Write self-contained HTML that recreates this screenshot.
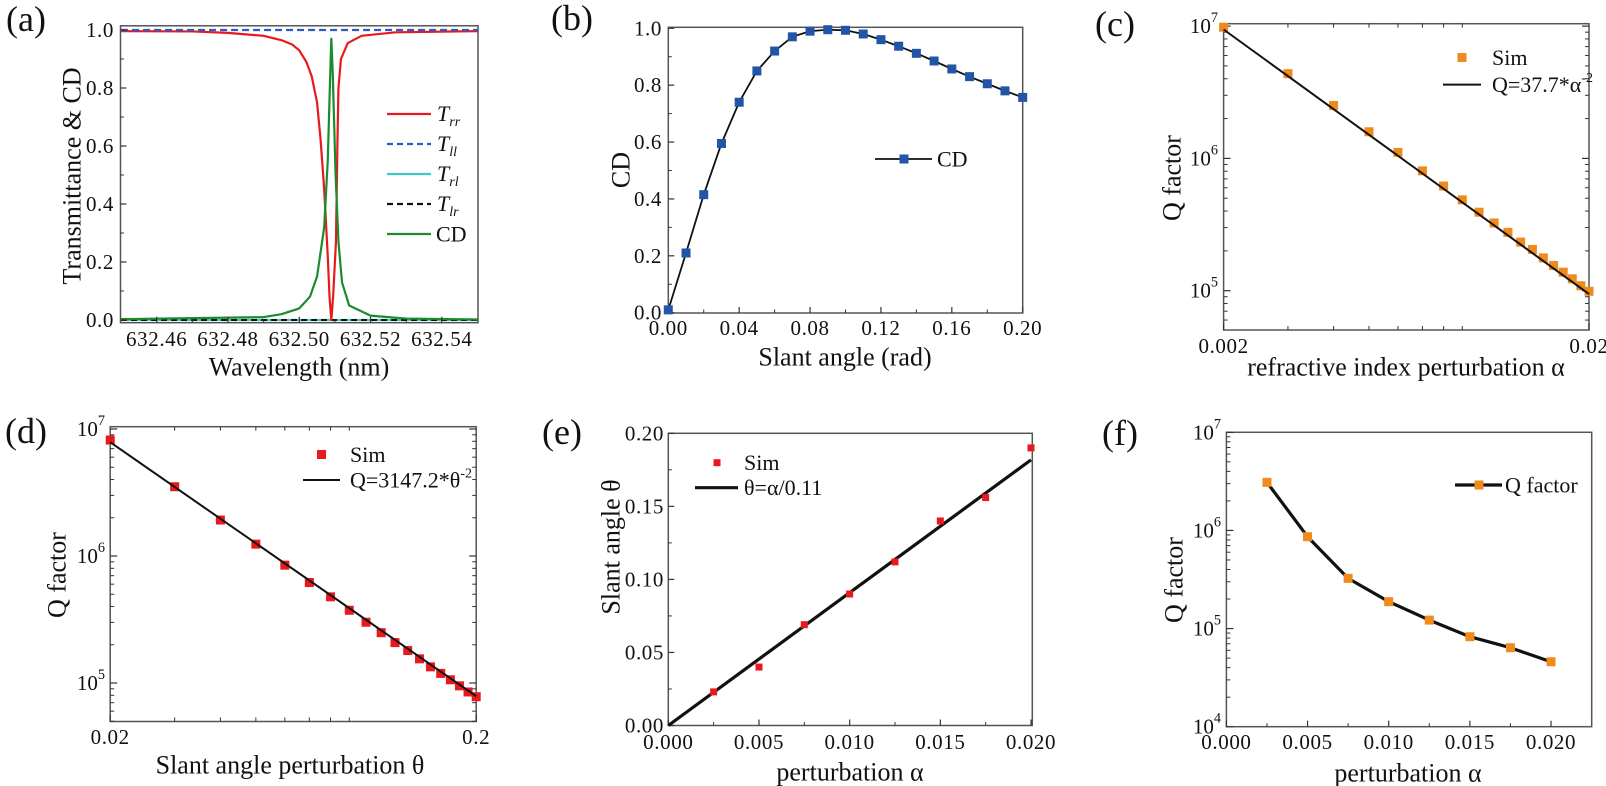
<!DOCTYPE html>
<html><head><meta charset="utf-8">
<style>
html,body{margin:0;padding:0;background:#fff;}
svg{display:block;font-family:"Liberation Serif",serif;}
</style></head>
<body>
<svg id="fig" width="1606" height="786" viewBox="0 0 1606 786" xmlns="http://www.w3.org/2000/svg">
<rect x="0" y="0" width="1606" height="786" fill="#fff"/>
</svg>
<script>
// ---------- data (a) ----------
const aTrrX=[632.45,632.47,632.48,632.49,632.495,632.498,632.50,632.502,632.5035,632.505,632.506,632.507,632.508,632.5085,632.509,632.5095,632.5103,632.5107,632.511,632.5117,632.5136,632.5175,632.527,632.55];
const aTrrY=[0.996,0.995,0.99,0.98,0.965,0.95,0.93,0.89,0.84,0.75,0.62,0.45,0.22,0.08,0.0,0.08,0.27,0.6,0.8,0.9,0.955,0.98,0.992,0.996];
const aCDX=[632.45,632.49,632.495,632.50,632.503,632.505,632.507,632.508,632.5087,632.509,632.5094,632.5102,632.511,632.512,632.514,632.52,632.53,632.55];
const aCDY=[0.003,0.01,0.02,0.04,0.08,0.15,0.32,0.55,0.85,0.97,0.85,0.5,0.27,0.13,0.05,0.015,0.005,0.002];
const aTll=1.0, aTrl=0.0, aTlr=0.0;
const aXTicks=[632.46,632.48,632.50,632.52,632.54];
const aXTickLabels=["632.46","632.48","632.50","632.52","632.54"];
const aYTicks=[0,0.2,0.4,0.6,0.8,1.0];
const aYTickLabels=["0.0","0.2","0.4","0.6","0.8","1.0"];
// ---------- data (b) ----------
const bX=[0,0.01,0.02,0.03,0.04,0.05,0.06,0.07,0.08,0.09,0.10,0.11,0.12,0.13,0.14,0.15,0.16,0.17,0.18,0.19,0.20];
const bCD=[0.01,0.21,0.415,0.595,0.74,0.85,0.92,0.97,0.99,0.995,0.993,0.98,0.96,0.937,0.912,0.885,0.857,0.83,0.805,0.78,0.757];
const bXTicks=[0,0.04,0.08,0.12,0.16,0.20];
const bXTickLabels=["0.00","0.04","0.08","0.12","0.16","0.20"];
const bYTicks=[0,0.2,0.4,0.6,0.8,1.0];
const bYTickLabels=["0.0","0.2","0.4","0.6","0.8","1.0"];
// ---------- data (c) ----------
const cAlpha=[0.002,0.003,0.004,0.005,0.006,0.007,0.008,0.009,0.010,0.011,0.012,0.013,0.014,0.015,0.016,0.017,0.018,0.019,0.020];
const cQ=[9.8e6,4.37e6,2.51e6,1.59e6,1.11e6,8.05e5,6.18e5,4.86e5,3.92e5,3.25e5,2.76e5,2.33e5,2.05e5,1.77e5,1.55e5,1.38e5,1.23e5,1.09e5,9.9e4];
const cFitCoef=37.7, cFitExp=-2;
const cXTickLabels=["0.002","0.02"];
const cYDecades=[5,6,7];
// ---------- data (d) ----------
const dTheta=[0.02,0.03,0.04,0.05,0.06,0.07,0.08,0.09,0.10,0.11,0.12,0.13,0.14,0.15,0.16,0.17,0.18,0.19,0.20];
const dQ=[8.19e6,3.51e6,1.92e6,1.24e6,8.47e5,6.18e5,4.77e5,3.74e5,3.01e5,2.49e5,2.08e5,1.80e5,1.55e5,1.34e5,1.19e5,1.06e5,9.5e4,8.5e4,7.8e4];
const dFitCoef=3147.2, dFitExp=-2;
const dXTickLabels=["0.02","0.2"];
const dYDecades=[5,6,7];
// ---------- data (e) ----------
const eAlpha=[0.0025,0.005,0.0075,0.010,0.0125,0.015,0.0175,0.020];
const eTheta=[0.023,0.040,0.069,0.090,0.112,0.140,0.156,0.190];
const eFitDiv=0.11;
const eXTicks=[0,0.005,0.010,0.015,0.020];
const eXTickLabels=["0.000","0.005","0.010","0.015","0.020"];
const eYTicks=[0,0.05,0.10,0.15,0.20];
const eYTickLabels=["0.00","0.05","0.10","0.15","0.20"];
// ---------- data (f) ----------
const fAlpha=[0.0025,0.005,0.0075,0.010,0.0125,0.015,0.0175,0.020];
const fQ=[3.09e6,8.63e5,3.25e5,1.88e5,1.22e5,8.26e4,6.38e4,4.59e4];
const fXTicks=[0,0.005,0.010,0.015,0.020];
const fXTickLabels=["0.000","0.005","0.010","0.015","0.020"];
const fYDecades=[4,5,6,7];

const NS="http://www.w3.org/2000/svg";
const svg=document.getElementById('fig');
function mk(parent,tag,attrs,name){
  const el=document.createElementNS(NS,tag);
  for(const k in attrs) el.setAttribute(k,attrs[k]);
  
  
  parent.appendChild(el);
  return el;
}
function txt(parent,x,y,s,size,name,anchor,extra){
  const t=mk(parent,'text',Object.assign({x:x,y:y,'font-size':size,'text-anchor':anchor||'middle','dominant-baseline':'central',fill:'#111'},extra||{}),name);
  t.textContent=s;
  return t;
}
function lin(d0,d1,p0,p1){return v=>p0+(v-d0)/(d1-d0)*(p1-p0);}
function lg(d0,d1,p0,p1){return v=>p0+(Math.log10(v)-d0)/(d1-d0)*(p1-p0);}
function poly(parent,xs,ys,sx,sy,attrs,name){
  const pts=xs.map((x,i)=>sx(x).toFixed(2)+','+sy(ys[i]).toFixed(2)).join(' ');
  return mk(parent,'polyline',Object.assign({points:pts,fill:'none'},attrs),name);
}
function box(g,L,T,R,B){
  mk(g,'rect',{x:L,y:T,width:R-L,height:B-T,fill:'none',stroke:'#555','stroke-width':1.5},'plot-frame');
}
const FS=21, TFS=26, PFS=36, LFS=22;
function linTicks(g,L,T,R,B,sx,sy,xt,xl,yt,yl,xminor,yminor,fs,xly,ylx){
  xt.forEach((v,i)=>{const x=sx(v);
    mk(g,'line',{x1:x,y1:B,x2:x,y2:B-6,stroke:'#333','stroke-width':1.2},'x-tick');
    txt(g,x,xly,xl[i],fs,'x-tick-label','middle',{'letter-spacing':0.6});});
  xminor.forEach(v=>{const x=sx(v);mk(g,'line',{x1:x,y1:B,x2:x,y2:B-3.5,stroke:'#333','stroke-width':1},'x-minor-tick');});
  yt.forEach((v,i)=>{const y=sy(v);
    mk(g,'line',{x1:L,y1:y,x2:L+6,y2:y,stroke:'#333','stroke-width':1.2},'y-tick');
    txt(g,ylx,y,yl[i],fs,'y-tick-label','end',{'letter-spacing':0.6});});
  yminor.forEach(v=>{const y=sy(v);mk(g,'line',{x1:L,y1:y,x2:L+3.5,y2:y,stroke:'#333','stroke-width':1},'y-minor-tick');});
}
function logYTicks(g,L,R,T,B,sy,decs,lx,fs,mirror){
  decs.forEach(d=>{const y=sy(Math.pow(10,d));
    mk(g,'line',{x1:L,y1:y,x2:L+7,y2:y,stroke:'#333','stroke-width':1.2},'y-tick');
    if(mirror) mk(g,'line',{x1:R,y1:y,x2:R-7,y2:y,stroke:'#333','stroke-width':1.2},'y-tick-right');
    const t=mk(g,'text',{x:lx,y:y+7,'font-size':fs,'text-anchor':'end',fill:'#111'},'y-tick-label');
    t.textContent='10';
    const s=mk(t,'tspan',{'font-size':fs*0.68,dy:-11},'y-tick-exponent');
    s.textContent=String(d);
  });
  for(let d=decs[0]-1; d<=decs[decs.length-1]; d++){
    for(let m=2;m<=9;m++){const v=m*Math.pow(10,d);const y=sy(v);
      if(y<T||y>B) continue;
      mk(g,'line',{x1:L,y1:y,x2:L+4,y2:y,stroke:'#333','stroke-width':1},'y-minor-tick');
      if(mirror) mk(g,'line',{x1:R,y1:y,x2:R-4,y2:y,stroke:'#333','stroke-width':1},'y-minor-tick-right');
    }
  }
}
function markers(g,xs,ys,sx,sy,size,color,name){
  xs.forEach((x,i)=>{mk(g,'rect',{x:sx(x)-size/2,y:sy(ys[i])-size/2,width:size,height:size,fill:color},name);});
}

// ================= (a) =================
(function(){
  const g=mk(svg,'g',{},'panel-a');
  const L=120.5,R=478,T=25.8,B=322.7;
  const sx=lin(632.46,632.54,156.7,441.8), sy=lin(0,1,320,30);
  const clip=mk(g,'clipPath',{id:'ca'},'clip-a'); mk(clip,'rect',{x:L,y:T,width:R-L,height:B-T},'clip-rect');
  const pg=mk(g,'g',{'clip-path':'url(#ca)'},'plot-area-a');
  poly(pg,[632.45,632.55],[aTrl,aTrl],sx,sy,{stroke:'#3ec8c8','stroke-width':2.2},'series-trl');
  poly(pg,[632.45,632.55],[aTlr,aTlr],sx,sy,{stroke:'#111','stroke-width':2,'stroke-dasharray':'6,4'},'series-tlr');
  poly(pg,aTrrX,aTrrY,sx,sy,{stroke:'#e8191d','stroke-width':2.2,'stroke-linejoin':'round'},'series-trr');
  poly(pg,[632.45,632.55],[aTll,aTll],sx,sy,{stroke:'#2c5cc0','stroke-width':2.2,'stroke-dasharray':'7,4'},'series-tll');
  poly(pg,aCDX,aCDY,sx,sy,{stroke:'#1a8c2e','stroke-width':2.2,'stroke-linejoin':'round'},'series-cd');
  box(g,L,T,R,B);
  linTicks(g,L,T,R,B,sx,sy,aXTicks,aXTickLabels,aYTicks,aYTickLabels,[632.47,632.49,632.51,632.53],[0.1,0.3,0.5,0.7,0.9],FS,339,114);
  txt(g,299,367,'Wavelength (nm)',TFS,'x-axis-title');
  txt(g,72,176,'Transmittance & CD',TFS,'y-axis-title','middle',{transform:'rotate(-90 72 176)'});
  txt(g,26,19,'(a)',PFS,'panel-label');
  const leg=[['r','r','#e8191d',''],['l','l','#2c5cc0','6,4'],['r','l','#3ec8c8',''],['l','r','#111','6,4']];
  const ly=[114,144,174,204];
  leg.forEach((e,i)=>{
    mk(g,'line',{x1:387,y1:ly[i],x2:431,y2:ly[i],stroke:e[2],'stroke-width':2.2,'stroke-dasharray':e[3]},'legend-line');
    const t=mk(g,'text',{x:437,y:ly[i]+7,'font-size':LFS,'font-style':'italic',fill:'#111'},'legend-label');
    t.textContent='T';
    const s=mk(t,'tspan',{'font-size':14,dy:5},'legend-subscript'); s.textContent=e[0]+e[1];
  });
  mk(g,'line',{x1:387,y1:234,x2:431,y2:234,stroke:'#1a8c2e','stroke-width':2.2},'legend-line');
  txt(g,436,234,'CD',LFS,'legend-label','start');
})();

// ================= (b) =================
(function(){
  const g=mk(svg,'g',{},'panel-b');
  const L=668.3,R=1022.7,T=27.3,B=313;
  const sx=lin(0,0.2,668.3,1022.7), sy=lin(0,1,312.7,28.3);
  box(g,L,T,R,B);
  linTicks(g,L,T,R,B,sx,sy,bXTicks,bXTickLabels,bYTicks,bYTickLabels,[0.02,0.06,0.10,0.14,0.18],[0.1,0.3,0.5,0.7,0.9],FS,328,662);
  poly(g,bX,bCD,sx,sy,{stroke:'#111','stroke-width':1.8,'stroke-linejoin':'round'},'cd-line');
  markers(g,bX,bCD,sx,sy,9,'#2255a8','cd-point');
  mk(g,'line',{x1:875,y1:159,x2:932,y2:159,stroke:'#111','stroke-width':1.8},'legend-line');
  mk(g,'rect',{x:899.5,y:154.5,width:9,height:9,fill:'#2255a8'},'legend-marker');
  txt(g,937,159,'CD',LFS,'legend-label','start');
  txt(g,845,357,'Slant angle (rad)',TFS,'x-axis-title');
  txt(g,621,170,'CD',TFS,'y-axis-title','middle',{transform:'rotate(-90 621 170)'});
  txt(g,572,18,'(b)',PFS,'panel-label');
})();

// ================= (c) =================
(function(){
  const g=mk(svg,'g',{},'panel-c');
  const L=1223.6,R=1589,T=23.7,B=330;
  const sx=lg(Math.log10(0.002),Math.log10(0.02),1223.6,1589), sy=lg(5,7,290.7,26.1);
  box(g,L,T,R,B);
  logYTicks(g,L,R,T,B,sy,cYDecades,1218,FS,true);
  [0.002,0.02].forEach((v,i)=>{const x=sx(v);
    mk(g,'line',{x1:x,y1:B,x2:x,y2:B-7,stroke:'#333','stroke-width':1.2},'x-tick');
    txt(g,x,346,cXTickLabels[i],FS,'x-tick-label','middle',{'letter-spacing':0.6});});
  for(let m=3;m<=9;m++){const x=sx(m*0.001);
    mk(g,'line',{x1:x,y1:B,x2:x,y2:B-4,stroke:'#333','stroke-width':1},'x-minor-tick');
    mk(g,'line',{x1:x,y1:T,x2:x,y2:T+4,stroke:'#333','stroke-width':1},'x-minor-tick-top');}
  const fx=[cAlpha[0],cAlpha[cAlpha.length-1]];
  markers(g,cAlpha,cQ,sx,sy,9,'#f08a1c','sim-point');
  poly(g,fx,fx.map(a=>cFitCoef*Math.pow(a,cFitExp)),sx,sy,{stroke:'#111','stroke-width':2},'fit-line');
  mk(g,'rect',{x:1457.5,y:53,width:9,height:9,fill:'#f08a1c'},'legend-marker');
  txt(g,1492,57.5,'Sim',LFS,'legend-label','start');
  mk(g,'line',{x1:1443,y1:84.6,x2:1481,y2:84.6,stroke:'#111','stroke-width':2},'legend-line');
  const t=mk(g,'text',{x:1492,y:92,'font-size':LFS,fill:'#111'},'legend-label'); t.textContent='Q=37.7*α';
  const s=mk(t,'tspan',{'font-size':14,dy:-10},'legend-exponent'); s.textContent='-2';
  txt(g,1406,367,'refractive index perturbation α',TFS,'x-axis-title');
  txt(g,1172,178,'Q factor',TFS,'y-axis-title','middle',{transform:'rotate(-90 1172 178)'});
  txt(g,1115,24,'(c)',PFS,'panel-label');
})();

// ================= (d) =================
(function(){
  const g=mk(svg,'g',{},'panel-d');
  const L=110.2,R=476.2,T=426.7,B=721.5;
  const sx=lg(Math.log10(0.02),Math.log10(0.2),110.2,476.2), sy=lg(5,7,683,429);
  box(g,L,T,R,B);
  logYTicks(g,L,R,T,B,sy,dYDecades,105,FS,true);
  [0.02,0.2].forEach((v,i)=>{const x=sx(v);
    mk(g,'line',{x1:x,y1:B,x2:x,y2:B-7,stroke:'#333','stroke-width':1.2},'x-tick');
    txt(g,x,737,dXTickLabels[i],FS,'x-tick-label','middle',{'letter-spacing':0.6});});
  for(let m=3;m<=9;m++){const x=sx(m*0.01);
    mk(g,'line',{x1:x,y1:B,x2:x,y2:B-4,stroke:'#333','stroke-width':1},'x-minor-tick');
    mk(g,'line',{x1:x,y1:T,x2:x,y2:T+4,stroke:'#333','stroke-width':1},'x-minor-tick-top');}
  const fx=[dTheta[0],dTheta[dTheta.length-1]];
  markers(g,dTheta,dQ,sx,sy,9,'#e8191d','sim-point');
  poly(g,fx,fx.map(a=>dFitCoef*Math.pow(a,dFitExp)),sx,sy,{stroke:'#111','stroke-width':2},'fit-line');
  mk(g,'rect',{x:317,y:450,width:9,height:9,fill:'#e8191d'},'legend-marker');
  txt(g,350,454.5,'Sim',LFS,'legend-label','start');
  mk(g,'line',{x1:303,y1:480,x2:340,y2:480,stroke:'#111','stroke-width':2},'legend-line');
  const t=mk(g,'text',{x:350,y:487.5,'font-size':LFS,fill:'#111'},'legend-label'); t.textContent='Q=3147.2*θ';
  const s=mk(t,'tspan',{'font-size':14,dy:-10},'legend-exponent'); s.textContent='-2';
  txt(g,290,765,'Slant angle perturbation θ',TFS,'x-axis-title');
  txt(g,57,575,'Q factor',TFS,'y-axis-title','middle',{transform:'rotate(-90 57 575)'});
  txt(g,26,431,'(d)',PFS,'panel-label');
})();

// ================= (e) =================
(function(){
  const g=mk(svg,'g',{},'panel-e');
  const L=668.3,R=1032.3,T=433.3,B=725.5;
  const sx=lin(0,0.02,668.3,1031), sy=lin(0,0.2,725.5,433.3);
  box(g,L,T,R,B);
  linTicks(g,L,T,R,B,sx,sy,eXTicks,eXTickLabels,eYTicks,eYTickLabels,[0.0025,0.0075,0.0125,0.0175],[0.025,0.075,0.125,0.175],FS,742,664);
  const fx=[0,0.02];
  poly(g,fx,fx.map(a=>a/eFitDiv),sx,sy,{stroke:'#111','stroke-width':3.2},'fit-line');
  markers(g,eAlpha,eTheta,sx,sy,7,'#e8191d','sim-point');
  mk(g,'rect',{x:713.5,y:459.2,width:7,height:7,fill:'#e8191d'},'legend-marker');
  txt(g,744,462.7,'Sim',LFS,'legend-label','start');
  mk(g,'line',{x1:695,y1:487.7,x2:738,y2:487.7,stroke:'#111','stroke-width':3.2},'legend-line');
  txt(g,744,487.7,'θ=α/0.11',LFS,'legend-label','start');
  txt(g,850,772,'perturbation α',TFS,'x-axis-title');
  txt(g,611,547,'Slant angle θ',TFS,'y-axis-title','middle',{transform:'rotate(-90 611 547)'});
  txt(g,562,432,'(e)',PFS,'panel-label');
})();

// ================= (f) =================
(function(){
  const g=mk(svg,'g',{},'panel-f');
  const L=1226.4,R=1591.7,T=432.3,B=726.7;
  const sx=lin(0,0.02,1226.4,1551), sy=lg(4,7,726.7,432.3);
  box(g,L,T,R,B);
  logYTicks(g,L,R,T,B,sy,fYDecades,1221,FS,false);
  fXTicks.forEach((v,i)=>{const x=sx(v);
    mk(g,'line',{x1:x,y1:B,x2:x,y2:B-6,stroke:'#333','stroke-width':1.2},'x-tick');
    txt(g,x,742,fXTickLabels[i],FS,'x-tick-label','middle',{'letter-spacing':0.6});});
  [0.0025,0.0075,0.0125,0.0175].forEach(v=>{const x=sx(v);mk(g,'line',{x1:x,y1:B,x2:x,y2:B-3.5,stroke:'#333','stroke-width':1},'x-minor-tick');});
  poly(g,fAlpha,fQ,sx,sy,{stroke:'#111','stroke-width':3.2,'stroke-linejoin':'round'},'q-factor-line');
  markers(g,fAlpha,fQ,sx,sy,9,'#f08a1c','q-factor-point');
  mk(g,'line',{x1:1455,y1:485,x2:1502,y2:485,stroke:'#111','stroke-width':3.2},'legend-line');
  mk(g,'rect',{x:1474.5,y:480.5,width:9,height:9,fill:'#f08a1c'},'legend-marker');
  txt(g,1505,485,'Q factor',LFS,'legend-label','start');
  txt(g,1408,773,'perturbation α',TFS,'x-axis-title');
  txt(g,1174,580,'Q factor',TFS,'y-axis-title','middle',{transform:'rotate(-90 1174 580)'});
  txt(g,1120,433,'(f)',PFS,'panel-label');
})();
</script>
</body></html>
